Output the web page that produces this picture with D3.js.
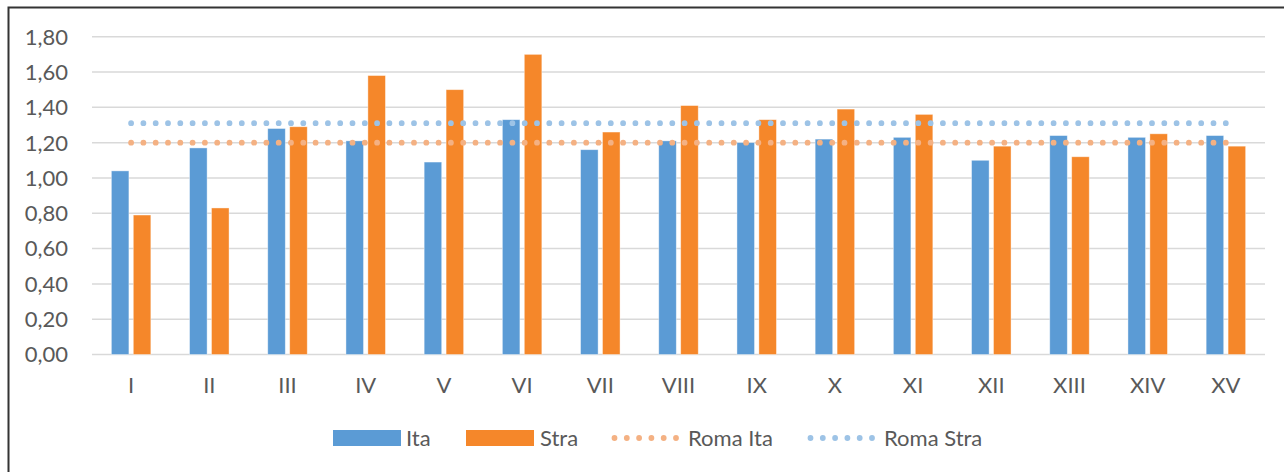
<!DOCTYPE html>
<html>
<head>
<meta charset="utf-8">
<script src="https://cdn.jsdelivr.net/npm/d3@7/dist/d3.min.js"></script>
<style>
  html, body { margin: 0; padding: 0; background: #fff; }
  svg { display: block; }
  text { font-family: Lato, "Open Sans", sans-serif; fill: #595959; }
</style>
</head>
<body>
<script>
const categories = ["I","II","III","IV","V","VI","VII","VIII","IX","X","XI","XII","XIII","XIV","XV"];
const seriesNames = ["Ita","Stra"];
const itaValues  = [1.04,1.17,1.28,1.21,1.09,1.33,1.16,1.21,1.20,1.22,1.23,1.10,1.24,1.23,1.24];
const straValues = [0.79,0.83,1.29,1.58,1.50,1.70,1.26,1.41,1.33,1.39,1.36,1.18,1.12,1.25,1.18];
const romaIta = 1.20;
const romaStra = 1.31;
const yTicks = [0,0.2,0.4,0.6,0.8,1.0,1.2,1.4,1.6,1.8];
const legendLabels = ["Ita","Stra","Roma Ita","Roma Stra"];

(function () {
const W = 1284, H = 472;
const colors = { Ita: "#5b9bd5", Stra: "#f5872a", RomaIta: "#f4b183", RomaStra: "#9dc3e6" };
const fs = 22;

const svg = d3.select("body").append("svg").attr("width", W).attr("height", H);

// frame
svg.append("rect").attr("x", 8.5).attr("y", 7.5).attr("width", 1300).attr("height", 500)
  .attr("fill", "none").attr("stroke", "#333333").attr("stroke-width", 2);

const pLeft = 92, pRight = 1265, pTop = 36.7, pBottom = 354.5;
const y = d3.scaleLinear().domain([0, 1.8]).range([pBottom, pTop]);
const x0 = d3.scaleBand().domain(categories).range([pLeft, pRight]).paddingInner(0.495).paddingOuter(0.2475);
const x1 = d3.scaleBand().domain(seriesNames).range([0, x0.bandwidth()]).paddingInner(0.2);
const xc = c => x0(c) + x0.bandwidth() / 2;

// gridlines
svg.append("g").selectAll("line").data(yTicks).join("line")
  .attr("x1", pLeft).attr("x2", pRight)
  .attr("y1", d => y(d)).attr("y2", d => y(d))
  .attr("stroke", "#d9d9d9").attr("stroke-width", 1.5);

// y axis labels
const fmt = d => d3.format(".2f")(d).replace(".", ",");
svg.append("g").selectAll("text").data(yTicks).join("text")
  .attr("x", 68).attr("y", d => y(d)).attr("dy", "0.36em")
  .attr("text-anchor", "end").attr("font-size", fs)
  .text(fmt);

// x labels
svg.append("g").selectAll("text").data(categories).join("text")
  .attr("x", xc).attr("y", 393)
  .attr("text-anchor", "middle").attr("font-size", fs)
  .text(d => d);

// bars
const rows = categories.map((c, i) => ({ c, Ita: itaValues[i], Stra: straValues[i] }));
const g = svg.append("g");
rows.forEach(r => {
  seriesNames.forEach(s => {
    g.append("rect")
      .attr("x", x0(r.c) + x1(s))
      .attr("y", y(r[s]))
      .attr("width", x1.bandwidth())
      .attr("height", y(0) - y(r[s]))
      .attr("fill", colors[s])
      .attr("stroke", "#ffffff").attr("stroke-opacity", 0.5).attr("stroke-width", 0.8);
  });
});

// dotted reference lines
const dotted = (sel, val, color) => sel.append("line")
  .attr("x1", xc(categories[0])).attr("x2", xc(categories[categories.length - 1]) + 1)
  .attr("y1", y(val)).attr("y2", y(val))
  .attr("stroke", color).attr("stroke-width", 5.8)
  .attr("stroke-linecap", "round").attr("stroke-dasharray", "0 12.3");
dotted(svg, romaIta, colors.RomaIta);
dotted(svg, romaStra, colors.RomaStra);

// legend
const ly = 438;
const lg = svg.append("g").attr("font-size", fs);
const items = [
  { type: "rect", x: 333, tx: 406, color: colors.Ita, label: legendLabels[0] },
  { type: "rect", x: 466, tx: 540, color: colors.Stra, label: legendLabels[1] },
  { type: "dot", x: 612, tx: 688, color: colors.RomaIta, label: legendLabels[2] },
  { type: "dot", x: 808, tx: 884, color: colors.RomaStra, label: legendLabels[3] }
];
items.forEach(it => {
  if (it.type === "rect") {
    lg.append("rect").attr("x", it.x).attr("y", ly - 8).attr("width", 68).attr("height", 16).attr("fill", it.color);
  } else {
    lg.append("line").attr("x1", it.x + 2.5).attr("x2", it.x + 2.5 + 62)
      .attr("y1", ly).attr("y2", ly)
      .attr("stroke", it.color).attr("stroke-width", 5.8)
      .attr("stroke-linecap", "round").attr("stroke-dasharray", "0 12.3");
  }
  lg.append("text").attr("x", it.tx).attr("y", ly).attr("dy", "0.36em").text(it.label);
});
})();
</script>
</body>
</html>
